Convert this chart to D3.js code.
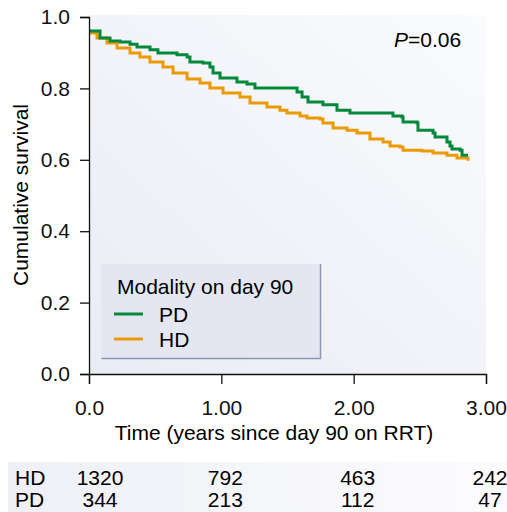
<!DOCTYPE html>
<html>
<head>
<meta charset="utf-8">
<script src="https://cdn.jsdelivr.net/npm/d3@7"></script>
<style>
  html, body { margin: 0; padding: 0; background: #fff; }
  svg { display: block; font-family: "Liberation Sans", Arial, Helvetica, sans-serif; }
</style>
</head>
<body>
<svg id="chart" width="507" height="512"></svg>
<script>
// Kaplan-Meier estimates (time in years, cumulative survival)
const pdTimes = [0, 0.083, 0.159, 0.234, 0.31, 0.363, 0.438, 0.461, 0.521, 0.665, 0.741, 0.763, 0.861, 0.914, 0.937, 0.99,
  1.118, 1.194, 1.254, 1.496, 1.572, 1.61, 1.655, 1.768, 1.874, 1.972, 2.275, 2.297, 2.365, 2.373, 2.479, 2.486,
  2.6, 2.615, 2.69, 2.705, 2.728, 2.743, 2.804, 2.819, 2.864];
const pdSurv = [0.961, 0.941, 0.933, 0.930, 0.924, 0.916, 0.916, 0.908, 0.899, 0.894, 0.888, 0.874, 0.871, 0.860, 0.843, 0.829,
  0.818, 0.812, 0.801, 0.801, 0.790, 0.776, 0.762, 0.754, 0.739, 0.731, 0.731, 0.723, 0.720, 0.706, 0.703, 0.683,
  0.675, 0.664, 0.664, 0.650, 0.639, 0.630, 0.627, 0.613, 0.613];

const hdTimes = [0, 0.06, 0.136, 0.212, 0.31, 0.385, 0.461, 0.559, 0.635, 0.741, 0.839, 0.914, 1.013, 1.141, 1.217, 1.345,
  1.443, 1.496, 1.595, 1.647, 1.746, 1.768, 1.844, 1.95, 2.025, 2.123, 2.222, 2.275, 2.35, 2.373, 2.516, 2.6,
  2.705, 2.781, 2.864];
const hdSurv = [0.955, 0.941, 0.927, 0.913, 0.899, 0.888, 0.874, 0.860, 0.843, 0.826, 0.815, 0.801, 0.787, 0.776, 0.759, 0.748,
  0.739, 0.731, 0.723, 0.717, 0.714, 0.703, 0.689, 0.683, 0.675, 0.658, 0.650, 0.639, 0.636, 0.627, 0.625, 0.619,
  0.613, 0.605, 0.597];

const xTickValues = [0, 1, 2, 3];
const xTickLabels = ['0.0', '1.00', '2.00', '3.00'];
const yTickValues = [0, 0.2, 0.4, 0.6, 0.8, 1.0];

// numbers at risk
const riskGroups = ['HD', 'PD'];
const hdAtRisk = [1320, 792, 463, 242];
const pdAtRisk = [344, 213, 112, 47];

const GREEN = '#00893b',
  ORANGE = '#ec9a04',
  FONT = 21;

let svg = d3.select('#chart');

let x = d3.scaleLinear().domain([0, 3]).range([89, 486]),
  y = d3.scaleLinear().domain([0, 1]).range([374, 17]);

let defs = svg.append('defs');
let bg = defs.append('linearGradient')
  .attr('id', 'plotbg')
  .attr('x1', 0).attr('y1', 1).attr('x2', 1).attr('y2', 0);
bg.append('stop').attr('offset', 0).attr('stop-color', '#eaecf5');
bg.append('stop').attr('offset', 1).attr('stop-color', '#fafbfd');

let tbg = defs.append('linearGradient')
  .attr('id', 'tablebg')
  .attr('x1', 0).attr('y1', 0).attr('x2', 1).attr('y2', 0);
tbg.append('stop').attr('offset', 0).attr('stop-color', '#eef0f6');
tbg.append('stop').attr('offset', 1).attr('stop-color', '#fcfcfe');

// plot background
svg.append('rect')
  .attr('x', x(0)).attr('y', y(1) - 2)
  .attr('width', x(3) - x(0)).attr('height', y(0) - y(1) + 2)
  .attr('fill', 'url(#plotbg)');

// legend box
let legend = svg.append('g');
legend.append('rect')
  .attr('x', 101).attr('y', 264).attr('width', 219).attr('height', 95)
  .attr('fill', '#e4e7f1');
legend.append('path')
  .attr('d', 'M101.5,358.5H320.5V264')
  .attr('fill', 'none')
  .attr('stroke', '#8c95b3')
  .attr('stroke-width', 1.5);
legend.append('text')
  .attr('x', 117).attr('y', 294)
  .attr('font-size', FONT)
  .text('Modality on day 90');

let legendItems = [['PD', GREEN], ['HD', ORANGE]];
legendItems.forEach(function (d, i) {
  let ly = 314 + i * 25;
  legend.append('line')
    .attr('x1', 114).attr('x2', 143)
    .attr('y1', ly).attr('y2', ly)
    .attr('stroke', d[1]).attr('stroke-width', 3);
  legend.append('text')
    .attr('x', 159).attr('y', ly + 8)
    .attr('font-size', FONT)
    .text(d[0]);
});

// survival curves
let line = d3.line()
  .x(d => x(d[0]))
  .y(d => y(d[1]))
  .curve(d3.curveStepAfter);

svg.append('path')
  .datum(hdTimes.map((t, i) => [t, hdSurv[i]]))
  .attr('d', line)
  .attr('fill', 'none')
  .attr('stroke', ORANGE)
  .attr('stroke-width', 3);

svg.append('path')
  .datum(pdTimes.map((t, i) => [t, pdSurv[i]]))
  .attr('d', line)
  .attr('fill', 'none')
  .attr('stroke', GREEN)
  .attr('stroke-width', 3);

// axes
let yAxis = svg.append('g')
  .attr('transform', `translate(${x(0)},0)`)
  .call(d3.axisLeft(y)
    .tickValues(yTickValues)
    .tickFormat(d3.format('.1f'))
    .tickSizeOuter(0)
    .tickSize(9)
    .tickPadding(10));

let xAxis = svg.append('g')
  .attr('transform', `translate(0,${y(0)})`)
  .call(d3.axisBottom(x)
    .tickValues(xTickValues)
    .tickFormat((d, i) => xTickLabels[i])
    .tickSizeOuter(0)
    .tickSize(10)
    .tickPadding(16));

[xAxis, yAxis].forEach(function (a) {
  a.attr('font-size', FONT).attr('font-family', null);
  a.selectAll('path, line').attr('stroke', '#111').attr('stroke-width', 1.3);
  a.selectAll('text').attr('fill', '#111');
});

svg.append('text')
  .attr('transform', 'translate(28,195) rotate(-90)')
  .attr('text-anchor', 'middle')
  .attr('font-size', FONT)
  .text('Cumulative survival');

svg.append('text')
  .attr('x', 274).attr('y', 440)
  .attr('text-anchor', 'middle')
  .attr('font-size', FONT)
  .text('Time (years since day 90 on RRT)');

let p = svg.append('text')
  .attr('x', 394).attr('y', 47)
  .attr('font-size', FONT);
p.append('tspan').attr('font-style', 'italic').text('P');
p.append('tspan').text('=0.06');

// numbers at risk table
svg.append('rect')
  .attr('x', 8).attr('y', 462)
  .attr('width', 499).attr('height', 50)
  .attr('fill', 'url(#tablebg)');

let riskRows = [hdAtRisk, pdAtRisk];
riskRows.forEach(function (row, r) {
  let by = 485 + r * 22;
  svg.append('text')
    .attr('x', 15).attr('y', by)
    .attr('font-size', FONT)
    .text(riskGroups[r]);
  svg.selectAll(null)
    .data(row)
    .enter()
    .append('text')
    .attr('x', (d, i) => x(xTickValues[i]) + (i == 0 ? 11 : 4))
    .attr('y', by)
    .attr('text-anchor', 'middle')
    .attr('font-size', FONT)
    .text(d => d);
});
</script>
</body>
</html>
